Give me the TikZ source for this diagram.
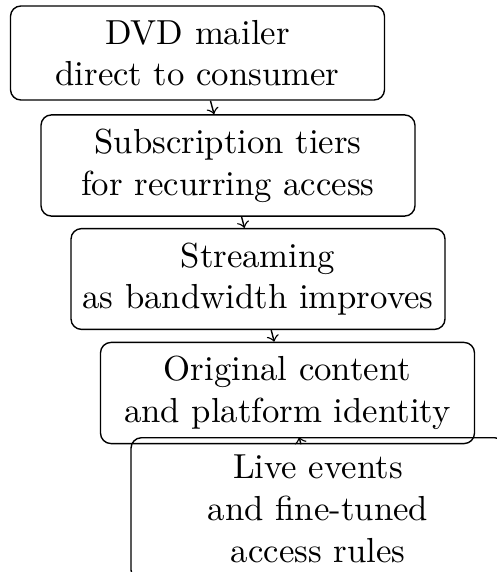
\documentclass[tikz,border=0pt]{standalone}
\begin{document}
\begin{tikzpicture}[x=0.2877pt,y=-0.2877pt,
  stage/.style={draw, rounded corners=3pt, minimum width=107.6pt, align=center, inner xsep=1.8pt, inner ysep=4pt},
  link/.style={->}]
\useasboundingbox (0,0) rectangle (496,572);
\node[stage] (a) at (197.5,53) {DVD mailer\\direct to consumer};
\node[stage] (b) at (228,165.5) {Subscription tiers\\for recurring access};
\node[stage] (c) at (258,279) {Streaming\\as bandwidth improves};
\node[stage] (d) at (287.5,393) {Original content\\and platform identity};
\node[stage, minimum height=41pt] (e) at (318,509) {Live events\\and fine-tuned\\access rules};
\draw[link] (a) -- (b);
\draw[link] (b) -- (c);
\draw[link] (c) -- (d);
\draw[link] (d) -- (e);
\end{tikzpicture}
\end{document}
